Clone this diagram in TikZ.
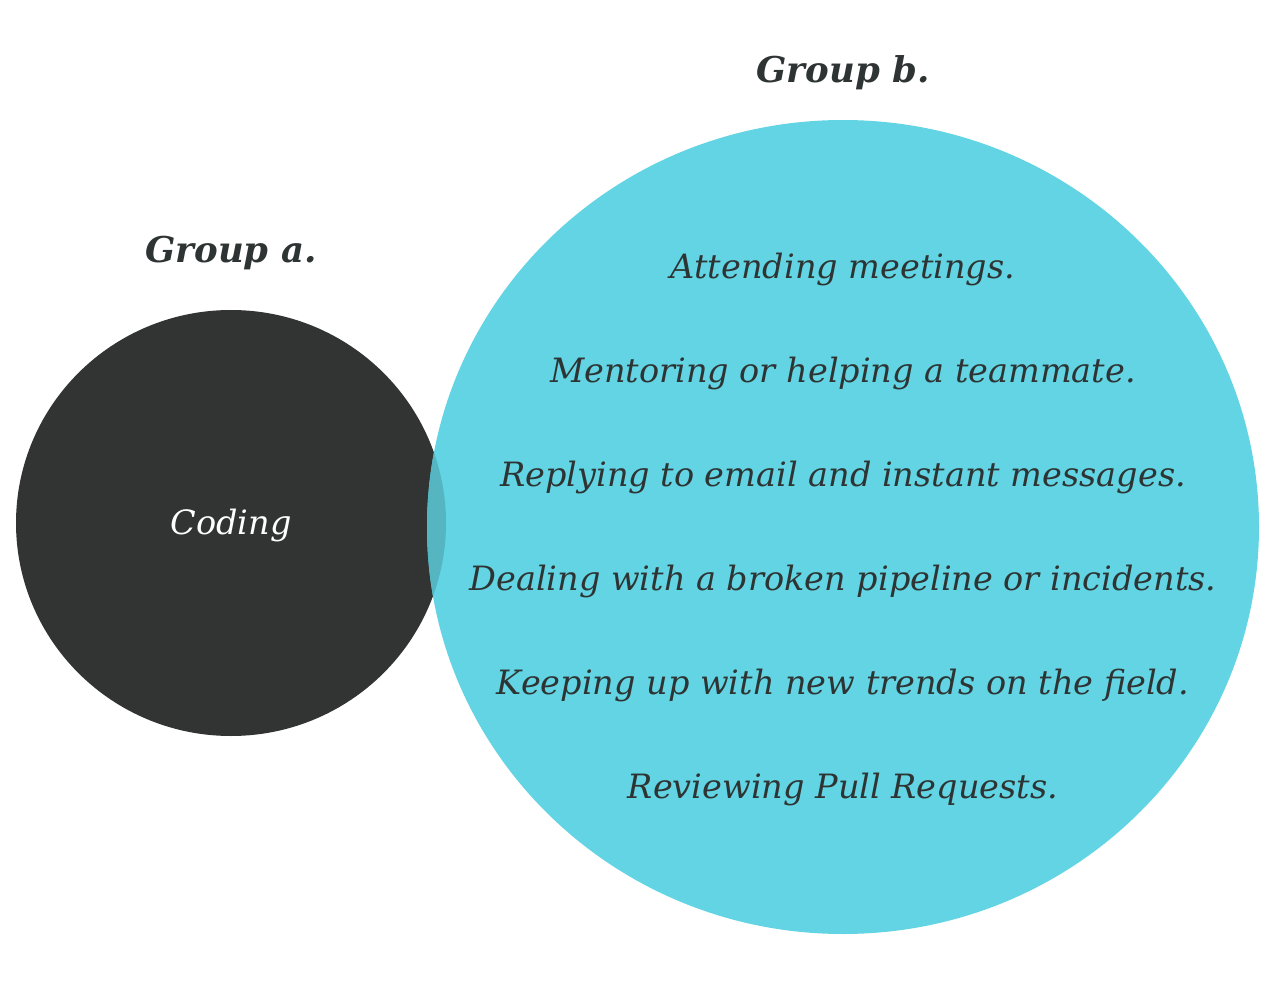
\documentclass[tikz,border=0pt]{standalone}
\usepackage{fontspec}
\setmainfont{DejaVu Serif}
\usetikzlibrary{shapes.geometric}
\definecolor{codingdark}{HTML}{313433}
\definecolor{meetblue}{HTML}{62D4E3}
\definecolor{mixblue}{HTML}{55B6C2}
\definecolor{labeltext}{HTML}{2E3433}
\begin{document}
\begin{tikzpicture}[x=1pt, y=-1pt,
    groupshape/.style={ellipse, inner sep=0pt, draw=none},
    grouptitle/.style={font=\fontsize{35.5}{40}\selectfont\bfseries\itshape, text=labeltext},
    task/.style={font=\fontsize{33.5}{38}\selectfont\itshape, text=labeltext}]
    \useasboundingbox (0,0) rectangle (1280,984);

    % --- two circles ---
    \node[groupshape, fill=codingdark, minimum width=430pt, minimum height=426pt] (circA) at (231,523) {};
    \node[groupshape, fill=meetblue, minimum width=832pt, minimum height=814pt] (circB) at (843,527) {};
    % overlap of the two
    \begin{scope}
        \clip (231,523) ellipse (215 and 213);
        \fill[mixblue] (843,527) ellipse (416 and 407);
    \end{scope}

    % --- titles ---
    \node[grouptitle] (titleA) at (231,253) {Group a.};
    \node[grouptitle] (titleB) at (843,73) {Group b.};

    % --- contents ---
    \node[font=\fontsize{33.5}{38}\selectfont\itshape, text=white] (coding) at (231,525) {Coding};
    \node[task] (t1) at (843,269) {Attending meetings.};
    \node[task] (t2) at (843,373) {Mentoring or helping a teammate.};
    \node[task] (t3) at (843,477) {Replying to email and instant messages.};
    \node[task] (t4) at (843,581) {Dealing with a broken pipeline or incidents.};
    \node[task] (t5) at (843,685) {Keeping up with new trends on the field.};
    \node[task] (t6) at (843,789) {Reviewing Pull Requests.};
\end{tikzpicture}
\end{document}
